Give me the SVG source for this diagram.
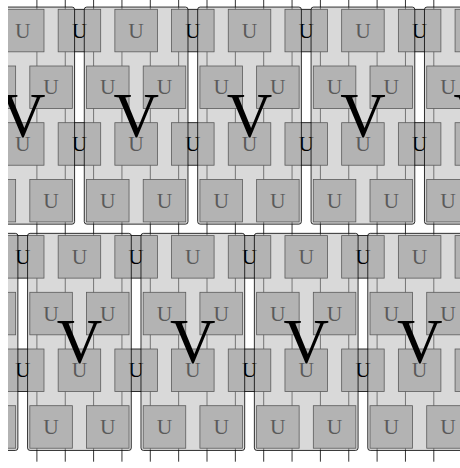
<svg xmlns="http://www.w3.org/2000/svg" width="460" height="468" viewBox="0 0 460 468">
<defs>
<clipPath id="clip"><rect x="8" y="0" width="452" height="468"/></clipPath>
<style>
.w{stroke:#000;stroke-width:0.8;fill:none}
.b{fill:#b3b3b3;stroke:#000;stroke-width:0.8}
.u{font-family:"Liberation Serif",serif;font-size:21.5px;text-anchor:middle;fill:#000}
.c{fill:#b3b3b3;fill-opacity:0.5;stroke:#000;stroke-width:0.8}
.v{font-family:"Liberation Serif",serif;font-size:63px;text-anchor:middle;fill:#000}
</style>
</defs>
<rect width="460" height="468" fill="#fff"/>
<g clip-path="url(#clip)">
<g id="connectors">
<path class="w" d="M36.9 0V461.7M65.25 0V461.7M93.6 0V461.7M121.95 0V461.7M150.3 0V461.7M178.65 0V461.7M207 0V461.7M235.35 0V461.7M263.7 0V461.7M292.05 0V461.7M320.4 0V461.7M348.75 0V461.7M377.1 0V461.7M405.45 0V461.7M433.8 0V461.7"/>
</g>
<g id="u-nodes">
<g id="u1a1"><rect class="b" x="1.47" y="9.3" width="42.52" height="42.52"/><text class="u" x="22.73" y="37.5">U</text></g>
<g id="u1a2"><rect class="b" x="58.17" y="9.3" width="42.52" height="42.52"/><text class="u" x="79.43" y="37.5">U</text></g>
<g id="u1a3"><rect class="b" x="114.87" y="9.3" width="42.52" height="42.52"/><text class="u" x="136.13" y="37.5">U</text></g>
<g id="u1a4"><rect class="b" x="171.57" y="9.3" width="42.52" height="42.52"/><text class="u" x="192.83" y="37.5">U</text></g>
<g id="u1a5"><rect class="b" x="228.27" y="9.3" width="42.52" height="42.52"/><text class="u" x="249.53" y="37.5">U</text></g>
<g id="u1a6"><rect class="b" x="284.97" y="9.3" width="42.52" height="42.52"/><text class="u" x="306.23" y="37.5">U</text></g>
<g id="u1a7"><rect class="b" x="341.67" y="9.3" width="42.52" height="42.52"/><text class="u" x="362.93" y="37.5">U</text></g>
<g id="u1a8"><rect class="b" x="398.37" y="9.3" width="42.52" height="42.52"/><text class="u" x="419.63" y="37.5">U</text></g>
<g id="u1a9"><rect class="b" x="455.07" y="9.3" width="42.52" height="42.52"/></g>
<g id="u1b1"><rect class="b" x="-26.88" y="66" width="42.52" height="42.52"/></g>
<g id="u1b2"><rect class="b" x="29.82" y="66" width="42.52" height="42.52"/><text class="u" x="51.08" y="94.2">U</text></g>
<g id="u1b3"><rect class="b" x="86.52" y="66" width="42.52" height="42.52"/><text class="u" x="107.78" y="94.2">U</text></g>
<g id="u1b4"><rect class="b" x="143.22" y="66" width="42.52" height="42.52"/><text class="u" x="164.48" y="94.2">U</text></g>
<g id="u1b5"><rect class="b" x="199.92" y="66" width="42.52" height="42.52"/><text class="u" x="221.18" y="94.2">U</text></g>
<g id="u1b6"><rect class="b" x="256.62" y="66" width="42.52" height="42.52"/><text class="u" x="277.88" y="94.2">U</text></g>
<g id="u1b7"><rect class="b" x="313.32" y="66" width="42.52" height="42.52"/><text class="u" x="334.58" y="94.2">U</text></g>
<g id="u1b8"><rect class="b" x="370.02" y="66" width="42.52" height="42.52"/><text class="u" x="391.28" y="94.2">U</text></g>
<g id="u1b9"><rect class="b" x="426.72" y="66" width="42.52" height="42.52"/><text class="u" x="447.98" y="94.2">U</text></g>
<g id="u1c1"><rect class="b" x="1.47" y="122.7" width="42.52" height="42.52"/><text class="u" x="22.73" y="150.9">U</text></g>
<g id="u1c2"><rect class="b" x="58.17" y="122.7" width="42.52" height="42.52"/><text class="u" x="79.43" y="150.9">U</text></g>
<g id="u1c3"><rect class="b" x="114.87" y="122.7" width="42.52" height="42.52"/><text class="u" x="136.13" y="150.9">U</text></g>
<g id="u1c4"><rect class="b" x="171.57" y="122.7" width="42.52" height="42.52"/><text class="u" x="192.83" y="150.9">U</text></g>
<g id="u1c5"><rect class="b" x="228.27" y="122.7" width="42.52" height="42.52"/><text class="u" x="249.53" y="150.9">U</text></g>
<g id="u1c6"><rect class="b" x="284.97" y="122.7" width="42.52" height="42.52"/><text class="u" x="306.23" y="150.9">U</text></g>
<g id="u1c7"><rect class="b" x="341.67" y="122.7" width="42.52" height="42.52"/><text class="u" x="362.93" y="150.9">U</text></g>
<g id="u1c8"><rect class="b" x="398.37" y="122.7" width="42.52" height="42.52"/><text class="u" x="419.63" y="150.9">U</text></g>
<g id="u1c9"><rect class="b" x="455.07" y="122.7" width="42.52" height="42.52"/></g>
<g id="u1d1"><rect class="b" x="-26.88" y="179.4" width="42.52" height="42.52"/></g>
<g id="u1d2"><rect class="b" x="29.82" y="179.4" width="42.52" height="42.52"/><text class="u" x="51.08" y="207.6">U</text></g>
<g id="u1d3"><rect class="b" x="86.52" y="179.4" width="42.52" height="42.52"/><text class="u" x="107.78" y="207.6">U</text></g>
<g id="u1d4"><rect class="b" x="143.22" y="179.4" width="42.52" height="42.52"/><text class="u" x="164.48" y="207.6">U</text></g>
<g id="u1d5"><rect class="b" x="199.92" y="179.4" width="42.52" height="42.52"/><text class="u" x="221.18" y="207.6">U</text></g>
<g id="u1d6"><rect class="b" x="256.62" y="179.4" width="42.52" height="42.52"/><text class="u" x="277.88" y="207.6">U</text></g>
<g id="u1d7"><rect class="b" x="313.32" y="179.4" width="42.52" height="42.52"/><text class="u" x="334.58" y="207.6">U</text></g>
<g id="u1d8"><rect class="b" x="370.02" y="179.4" width="42.52" height="42.52"/><text class="u" x="391.28" y="207.6">U</text></g>
<g id="u1d9"><rect class="b" x="426.72" y="179.4" width="42.52" height="42.52"/><text class="u" x="447.98" y="207.6">U</text></g>
<g id="u2a1"><rect class="b" x="1.47" y="235.6" width="42.52" height="42.52"/><text class="u" x="22.73" y="263.8">U</text></g>
<g id="u2a2"><rect class="b" x="58.17" y="235.6" width="42.52" height="42.52"/><text class="u" x="79.43" y="263.8">U</text></g>
<g id="u2a3"><rect class="b" x="114.87" y="235.6" width="42.52" height="42.52"/><text class="u" x="136.13" y="263.8">U</text></g>
<g id="u2a4"><rect class="b" x="171.57" y="235.6" width="42.52" height="42.52"/><text class="u" x="192.83" y="263.8">U</text></g>
<g id="u2a5"><rect class="b" x="228.27" y="235.6" width="42.52" height="42.52"/><text class="u" x="249.53" y="263.8">U</text></g>
<g id="u2a6"><rect class="b" x="284.97" y="235.6" width="42.52" height="42.52"/><text class="u" x="306.23" y="263.8">U</text></g>
<g id="u2a7"><rect class="b" x="341.67" y="235.6" width="42.52" height="42.52"/><text class="u" x="362.93" y="263.8">U</text></g>
<g id="u2a8"><rect class="b" x="398.37" y="235.6" width="42.52" height="42.52"/><text class="u" x="419.63" y="263.8">U</text></g>
<g id="u2a9"><rect class="b" x="455.07" y="235.6" width="42.52" height="42.52"/></g>
<g id="u2b1"><rect class="b" x="-26.88" y="292.3" width="42.52" height="42.52"/></g>
<g id="u2b2"><rect class="b" x="29.82" y="292.3" width="42.52" height="42.52"/><text class="u" x="51.08" y="320.5">U</text></g>
<g id="u2b3"><rect class="b" x="86.52" y="292.3" width="42.52" height="42.52"/><text class="u" x="107.78" y="320.5">U</text></g>
<g id="u2b4"><rect class="b" x="143.22" y="292.3" width="42.52" height="42.52"/><text class="u" x="164.48" y="320.5">U</text></g>
<g id="u2b5"><rect class="b" x="199.92" y="292.3" width="42.52" height="42.52"/><text class="u" x="221.18" y="320.5">U</text></g>
<g id="u2b6"><rect class="b" x="256.62" y="292.3" width="42.52" height="42.52"/><text class="u" x="277.88" y="320.5">U</text></g>
<g id="u2b7"><rect class="b" x="313.32" y="292.3" width="42.52" height="42.52"/><text class="u" x="334.58" y="320.5">U</text></g>
<g id="u2b8"><rect class="b" x="370.02" y="292.3" width="42.52" height="42.52"/><text class="u" x="391.28" y="320.5">U</text></g>
<g id="u2b9"><rect class="b" x="426.72" y="292.3" width="42.52" height="42.52"/><text class="u" x="447.98" y="320.5">U</text></g>
<g id="u2c1"><rect class="b" x="1.47" y="349" width="42.52" height="42.52"/><text class="u" x="22.73" y="377.2">U</text></g>
<g id="u2c2"><rect class="b" x="58.17" y="349" width="42.52" height="42.52"/><text class="u" x="79.43" y="377.2">U</text></g>
<g id="u2c3"><rect class="b" x="114.87" y="349" width="42.52" height="42.52"/><text class="u" x="136.13" y="377.2">U</text></g>
<g id="u2c4"><rect class="b" x="171.57" y="349" width="42.52" height="42.52"/><text class="u" x="192.83" y="377.2">U</text></g>
<g id="u2c5"><rect class="b" x="228.27" y="349" width="42.52" height="42.52"/><text class="u" x="249.53" y="377.2">U</text></g>
<g id="u2c6"><rect class="b" x="284.97" y="349" width="42.52" height="42.52"/><text class="u" x="306.23" y="377.2">U</text></g>
<g id="u2c7"><rect class="b" x="341.67" y="349" width="42.52" height="42.52"/><text class="u" x="362.93" y="377.2">U</text></g>
<g id="u2c8"><rect class="b" x="398.37" y="349" width="42.52" height="42.52"/><text class="u" x="419.63" y="377.2">U</text></g>
<g id="u2c9"><rect class="b" x="455.07" y="349" width="42.52" height="42.52"/></g>
<g id="u2d1"><rect class="b" x="-26.88" y="405.7" width="42.52" height="42.52"/></g>
<g id="u2d2"><rect class="b" x="29.82" y="405.7" width="42.52" height="42.52"/><text class="u" x="51.08" y="433.9">U</text></g>
<g id="u2d3"><rect class="b" x="86.52" y="405.7" width="42.52" height="42.52"/><text class="u" x="107.78" y="433.9">U</text></g>
<g id="u2d4"><rect class="b" x="143.22" y="405.7" width="42.52" height="42.52"/><text class="u" x="164.48" y="433.9">U</text></g>
<g id="u2d5"><rect class="b" x="199.92" y="405.7" width="42.52" height="42.52"/><text class="u" x="221.18" y="433.9">U</text></g>
<g id="u2d6"><rect class="b" x="256.62" y="405.7" width="42.52" height="42.52"/><text class="u" x="277.88" y="433.9">U</text></g>
<g id="u2d7"><rect class="b" x="313.32" y="405.7" width="42.52" height="42.52"/><text class="u" x="334.58" y="433.9">U</text></g>
<g id="u2d8"><rect class="b" x="370.02" y="405.7" width="42.52" height="42.52"/><text class="u" x="391.28" y="433.9">U</text></g>
<g id="u2d9"><rect class="b" x="426.72" y="405.7" width="42.52" height="42.52"/><text class="u" x="447.98" y="433.9">U</text></g>
</g>
<g id="v-nodes">
<g id="v1-0"><rect class="c" x="-29.13" y="7.05" width="103.72" height="217.1" rx="2.5"/><text class="v" x="22.73" y="136.8">V</text></g>
<g id="v1-1"><rect class="c" x="84.27" y="7.05" width="103.72" height="217.1" rx="2.5"/><text class="v" x="136.13" y="136.8">V</text></g>
<g id="v1-2"><rect class="c" x="197.67" y="7.05" width="103.72" height="217.1" rx="2.5"/><text class="v" x="249.53" y="136.8">V</text></g>
<g id="v1-3"><rect class="c" x="311.07" y="7.05" width="103.72" height="217.1" rx="2.5"/><text class="v" x="362.93" y="136.8">V</text></g>
<g id="v1-4"><rect class="c" x="424.47" y="7.05" width="103.72" height="217.1" rx="2.5"/><text class="v" x="476.33" y="136.8">V</text></g>
<g id="v2-0"><rect class="c" x="-85.83" y="233.35" width="103.72" height="217.1" rx="2.5"/></g>
<g id="v2-1"><rect class="c" x="27.57" y="233.35" width="103.72" height="217.1" rx="2.5"/><text class="v" x="79.43" y="363.1">V</text></g>
<g id="v2-2"><rect class="c" x="140.97" y="233.35" width="103.72" height="217.1" rx="2.5"/><text class="v" x="192.83" y="363.1">V</text></g>
<g id="v2-3"><rect class="c" x="254.37" y="233.35" width="103.72" height="217.1" rx="2.5"/><text class="v" x="306.23" y="363.1">V</text></g>
<g id="v2-4"><rect class="c" x="367.77" y="233.35" width="103.72" height="217.1" rx="2.5"/><text class="v" x="419.63" y="363.1">V</text></g>
</g>
</g>
</svg>
